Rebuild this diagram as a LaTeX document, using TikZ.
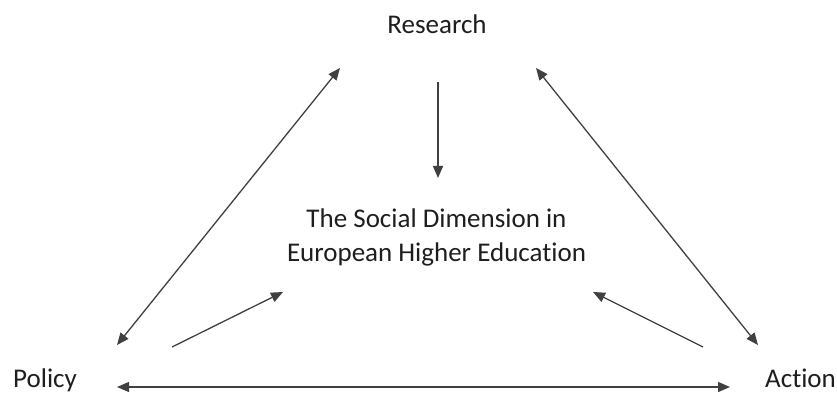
\documentclass[tikz,border=0pt]{standalone}
\usepackage{fontspec}
\setmainfont{Carlito}[Ligatures=NoCommon]
\usetikzlibrary{arrows.meta}
\definecolor{arrowgray}{HTML}{404040}
\definecolor{textgray}{HTML}{1E1E1E}
\tikzset{
  lbl/.style={inner sep=0pt, text=textgray, font=\fontsize{27}{34}\selectfont},
  link/.style={draw=arrowgray, line width=1.3pt, -{Triangle[length=12pt,width=10pt]}},
  dlink/.style={draw=arrowgray, line width=1.3pt, {Triangle[length=12pt,width=10pt]}-{Triangle[length=12pt,width=10pt]}}
}
\begin{document}
\begin{tikzpicture}[x=1pt,y=1pt]
\useasboundingbox (0,0) rectangle (837,394);
% text nodes
\node[lbl, anchor=base] (research) at (437,360) {Research};
\node[lbl, anchor=base, align=center] (center) at (436.5,133) {The Social Dimension in\\European Higher Education};
\node[lbl, anchor=base west] (policy) at (13,7) {Policy};
\node[lbl, anchor=base west] (action) at (765,7) {Action};
% connector end points
\coordinate (rdTop) at (438,312);
\coordinate (rdTip) at (438,216);
\coordinate (prP) at (117,49);
\coordinate (prR) at (340,326);
\coordinate (raR) at (536,326);
\coordinate (raA) at (758,49);
\coordinate (pcP) at (172,47);
\coordinate (pcC) at (283,102);
\coordinate (acA) at (703,47);
\coordinate (acC) at (593,102);
\coordinate (paP) at (117,7);
\coordinate (paA) at (730,7);
% connectors
\draw[link] (rdTop) -- (rdTip);
\draw[dlink] (prP) -- (prR);
\draw[dlink] (raR) -- (raA);
\draw[link] (pcP) -- (pcC);
\draw[link] (acA) -- (acC);
\draw[dlink] (paP) -- (paA);
\end{tikzpicture}
\end{document}
